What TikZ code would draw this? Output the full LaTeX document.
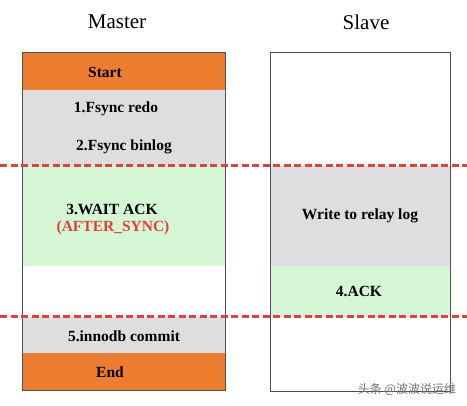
\documentclass[tikz,border=0pt]{standalone}
\usepackage{fontspec}
\setmainfont{Liberation Serif}
\newfontfamily\cjkfont{Noto Sans CJK SC}
\usepackage{xcolor}
\usetikzlibrary{positioning, calc}
\definecolor{stepOrange}{RGB}{237, 125, 49}
\definecolor{stepGray}{RGB}{222, 222, 222}
\definecolor{stepGreen}{RGB}{212, 246, 212}
\definecolor{cutRed}{RGB}{217, 68, 62}
\definecolor{syncRed}{RGB}{224, 64, 58}
\definecolor{frameGray}{RGB}{80, 80, 80}
\tikzset{
    seg/.style={rectangle, inner sep=0pt, outer sep=0pt, minimum width=203pt},
    slaveseg/.style={rectangle, inner sep=0pt, outer sep=0pt, minimum width=180pt},
    segtext/.style={font=\fontsize{15.5}{18}\selectfont\bfseries, inner sep=1pt},
    title/.style={font=\fontsize{21}{24}\selectfont},
    cutline/.style={cutRed, line width=3pt, dash pattern=on 7pt off 3.5pt},
    frame/.style={frameGray, line width=0.9pt}
}

\begin{document}
\begin{tikzpicture}[x=1pt, y=-1pt]
    \useasboundingbox[fill=white] (0,0) rectangle (467,406);

    % Titles
    \node[title] (master) at (117,22) {Master};
    \node[title] (slave) at (366,22) {Slave};

    % Master column
    \node[seg, fill=stepOrange, minimum height=38pt] (start) at (123.5,71) {};
    \node[seg, fill=stepGray, minimum height=37pt, below=0pt of start] (redo) {};
    \node[seg, fill=stepGray, minimum height=38pt, below=0pt of redo] (binlog) {};
    \node[seg, fill=stepGreen, minimum height=101pt, below=0pt of binlog] (wait) {};
    \node[seg, fill=white, minimum height=51pt, below=0pt of wait] (gap) {};
    \node[seg, fill=stepGray, minimum height=36pt, below=0pt of gap] (commit) {};
    \node[seg, fill=stepOrange, minimum height=37pt, below=0pt of commit] (finish) {};
    \draw[black!12, line width=0.5pt] (redo.south west) -- (redo.south east);
    \draw[frame] (start.north west) rectangle (finish.south east);

    % Slave column
    \node[slaveseg, fill=white, minimum height=114pt] (idle) at (360,109) {};
    \node[slaveseg, fill=stepGray, minimum height=100pt, below=0pt of idle] (relay) {};
    \node[slaveseg, fill=stepGreen, minimum height=51pt, below=0pt of relay] (ack) {};
    \node[slaveseg, fill=white, minimum height=74pt, below=0pt of ack] (rest) {};
    \draw[frame] (idle.north west) rectangle (rest.south east);

    % Labels
    \node[segtext] (startT) at (105,72) {Start};
    \node[segtext] (redoT) at (116,109) {1.Fsync redo};
    \node[segtext] (binlogT) at (124,147) {2.Fsync binlog};
    \node[segtext] (waitT) at (112,209) {3.WAIT ACK};
    \node[segtext, text=syncRed] (syncT) at (113,228) {(AFTER\_SYNC)};
    \node[segtext] (commitT) at (124,336) {5.innodb commit};
    \node[segtext] (endT) at (110,372) {End};
    \node[segtext] (relayT) at (360,216) {Write to relay log};
    \node[segtext] (ackT) at (359,291) {4.ACK};

    % Sync points
    \coordinate (cutA1) at (0,166);
    \coordinate (cutA2) at (467,166);
    \coordinate (cutB1) at (0,317);
    \coordinate (cutB2) at (467,317);
    \draw[cutline] (cutA1) -- (cutA2);
    \draw[cutline] (cutB1) -- (cutB2);

    % Watermark
    \node[font=\cjkfont\fontsize{12}{14}\selectfont, text=black!55] (mark) at (407,389) {头条 @波波说运维};
\end{tikzpicture}
\end{document}
